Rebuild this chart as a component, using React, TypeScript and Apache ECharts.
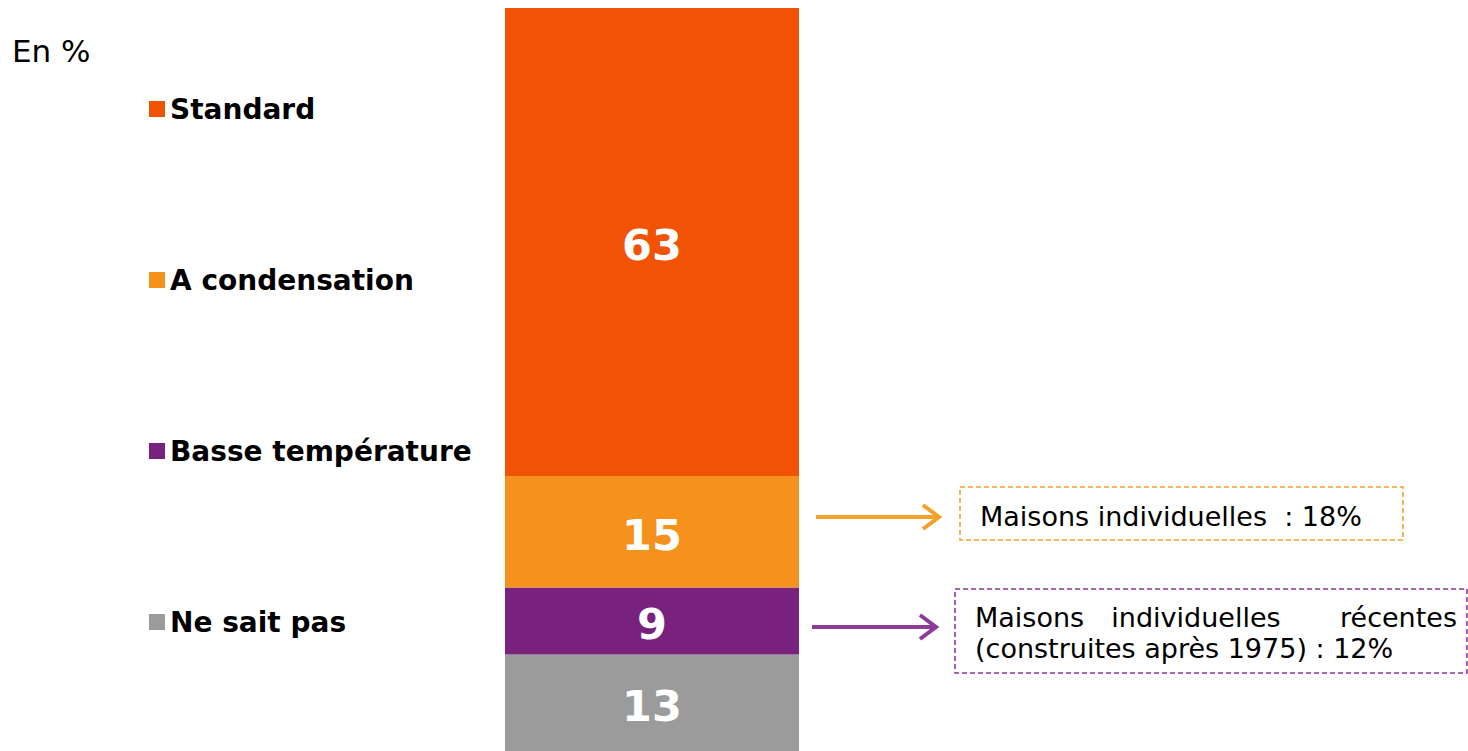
import React, { useEffect, useRef } from "react";
import * as echarts from "echarts";

const categories = ["Type de chaudière"];
const seriesNames = ["Ne sait pas", "Basse température", "A condensation", "Standard"];
const seriesValues = [13, 9, 15, 63];
const seriesColors = ["#9B9B9B", "#78217D", "#F5921E", "#F05206"];
const legendOrder = ["Standard", "A condensation", "Basse température", "Ne sait pas"];
const unitLabel = "En %";
const noteCondensation = "Maisons individuelles  : 18%";
const noteBasseLine1 = ["Maisons", "individuelles", "récentes"];
const noteBasseLine2 = "(construites après 1975) : 12%";

const FONT = "'DejaVu Sans', Verdana, sans-serif";

export default function App() {
  const ref = useRef<HTMLDivElement>(null);
  useEffect(() => {
    if (!ref.current) return;
    const chart = echarts.init(ref.current, undefined, { renderer: "svg" });
    const series = seriesNames.map((name, i) => ({
      name,
      type: "bar",
      stack: "total",
      barWidth: "100%",
      data: [seriesValues[i]],
      itemStyle: { color: seriesColors[i] },
      label: {
        show: true,
        position: "inside",
        offset: [0, 3],
        color: "#FFFFFF",
        fontWeight: "bold",
        fontSize: 43,
        fontFamily: FONT,
      },
    }));
    const orange = "#F5A02A";
    const purple = "#8E3A98";
    chart.setOption({
      animation: false,
      textStyle: { fontFamily: FONT },
      title: {
        text: unitLabel,
        left: 12,
        top: 35,
        padding: 0,
        textStyle: { fontFamily: FONT, fontSize: 31, fontWeight: "normal", color: "#000" },
      },
      legend: {
        data: legendOrder,
        orient: "vertical",
        left: 144,
        top: 90,
        itemWidth: 16,
        itemHeight: 16,
        itemGap: 143,
        icon: "rect",
        textStyle: { fontFamily: FONT, fontSize: 28, fontWeight: "bold", color: "#000", lineHeight: 28 },
        selectedMode: false,
      },
      grid: { left: 505, right: 669, top: 8, bottom: 0, containLabel: false },
      xAxis: { type: "category", data: categories, show: false },
      yAxis: { type: "value", min: 0, max: 100, show: false, splitLine: { show: false } },
      series,
      graphic: [
        // orange arrow
        { type: "line", shape: { x1: 816, y1: 517, x2: 937, y2: 517 }, style: { stroke: orange, lineWidth: 4 } },
        { type: "polyline", shape: { points: [[923, 505], [939, 517], [923, 529]] }, style: { stroke: orange, lineWidth: 4, fill: null } },
        // purple arrow
        { type: "line", shape: { x1: 812, y1: 627, x2: 934, y2: 627 }, style: { stroke: purple, lineWidth: 4 } },
        { type: "polyline", shape: { points: [[920, 615], [936, 627], [920, 639]] }, style: { stroke: purple, lineWidth: 4, fill: null } },
        // box 1
        { type: "rect", shape: { x: 960, y: 487, width: 443, height: 53 }, style: { fill: "none", stroke: orange, lineWidth: 1.6, lineDash: [5, 3] } },
        { type: "text", x: 980, y: 516, style: { text: noteCondensation, font: `27px ${FONT}`, fill: "#000", verticalAlign: "middle" } },
        // box 2
        { type: "rect", shape: { x: 955, y: 589, width: 512, height: 84 }, style: { fill: "none", stroke: purple, lineWidth: 1.6, lineDash: [5, 3] } },
        { type: "text", x: 975, y: 617, style: { text: noteBasseLine1[0], font: `27px ${FONT}`, fill: "#000", verticalAlign: "middle" } },
        { type: "text", x: 1196, y: 617, style: { text: noteBasseLine1[1], font: `27px ${FONT}`, fill: "#000", align: "center", verticalAlign: "middle" } },
        { type: "text", x: 1457, y: 617, style: { text: noteBasseLine1[2], font: `27px ${FONT}`, fill: "#000", align: "right", verticalAlign: "middle" } },
        { type: "text", x: 975, y: 648, style: { text: noteBasseLine2, font: `27px ${FONT}`, fill: "#000", verticalAlign: "middle" } },
      ],
    });
    return () => chart.dispose();
  }, []);
  return (
    <div
      ref={ref}
      style={{ position: "fixed", left: 0, top: 0, width: 1468, height: 751, background: "#fff" }}
    />
  );
}
